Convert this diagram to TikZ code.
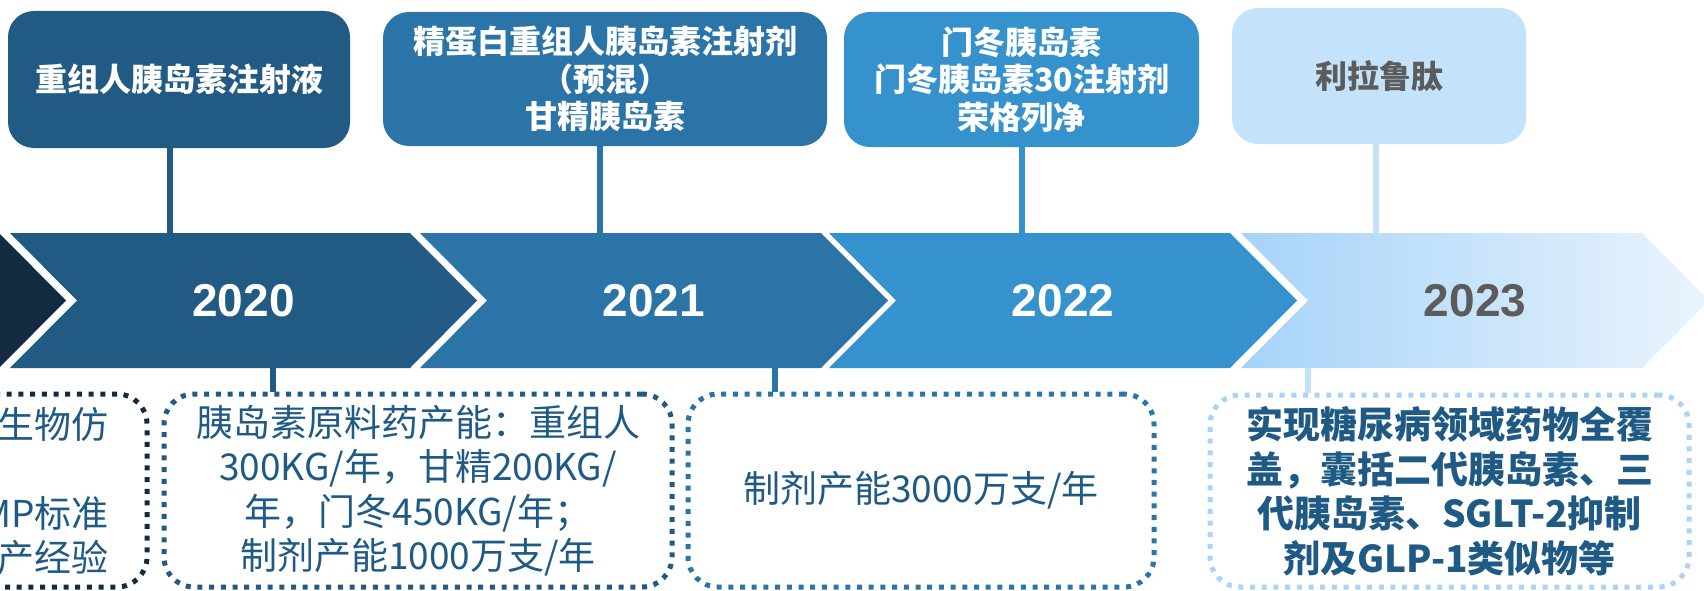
\documentclass[tikz,border=0pt]{standalone}
\usepackage{fontspec}
\setmainfont{Noto Sans CJK SC}
\newfontfamily\yearfont{Liberation Sans}
\usetikzlibrary{fit,positioning,calc}

\definecolor{navy}{HTML}{132B40}
\definecolor{blueA}{HTML}{215A82}
\definecolor{blueB}{HTML}{2A74A8}
\definecolor{blueC}{HTML}{3592CD}
\definecolor{blueD}{HTML}{C5E2FB}
\definecolor{dotD}{HTML}{A9D3F7}
\definecolor{shadeL}{HTML}{A6D3F9}
\definecolor{shadeR}{HTML}{EAF4FD}
\definecolor{greytext}{HTML}{5C5C5C}
\definecolor{inktext}{HTML}{1F5A85}

\tikzset{
  topbox/.style={rounded corners=26pt, inner sep=0pt},
  topfont/.style={font=\fontsize{32}{37.5}\selectfont\bfseries, align=center},
  dotbox/.style={rounded corners=30pt, inner sep=0pt, line width=5pt, dash pattern=on 5pt off 6.7pt},
  lowfont/.style={font=\fontsize{37}{44.5}\selectfont, align=center},
  yearlabel/.style={font=\fontsize{46}{46}\yearfont\bfseries},
  link/.style={line width=5.5pt},
}

\begin{document}
\begin{tikzpicture}[x=1pt, y=-1pt]
    \useasboundingbox (0,0) rectangle (1704,591);
    \clip (0,0) rectangle (1704,591);

    \coordinate (up20) at (170,233);
    \coordinate (up21) at (600,233);
    \coordinate (up22) at (1022,233);
    \coordinate (up23) at (1376,233);
    \coordinate (dn20) at (273,368);
    \coordinate (dn21) at (775,368);
    \coordinate (dn23) at (1308,368);

    \node[fit={(8,11) (350,148)}, topbox, fill=blueA] (drug20) {};
    \node[topfont, text=white] at (drug20.center) {重组人胰岛素注射液};
    \draw[link, blueA] (drug20.south -| up20) -- (up20);

    \node[fit={(383,12) (827,146)}, topbox, fill=blueB] (drug21) {};
    \node[topfont, text=white] at (drug21.center) {精蛋白重组人胰岛素注射剂\\（预混）\\甘精胰岛素};
    \draw[link, blueB] (drug21.south -| up21) -- (up21);

    \node[fit={(844,12) (1199,147)}, topbox, fill=blueC] (drug22) {};
    \node[topfont, text=white] at (drug22.center) {门冬胰岛素\\门冬胰岛素30注射剂\\荣格列净};
    \draw[link, blueC] (drug22.south -| up22) -- (up22);

    \node[fit={(1232,8) (1526,144)}, topbox, fill=blueD] (drug23) {};
    \node[topfont, text=greytext] at (drug23.center) {利拉鲁肽};
    \draw[link, blueD] (drug23.south -| up23) -- (up23);

    \fill[navy] (-401,233) -- ++(400,0) -- ++(67,67.5) -- ++(-67,67.5) -- ++(-400,0) -- ++(67,-67.5) -- cycle;
    \fill[blueA] (10,233) -- ++(400,0) -- ++(67,67.5) -- ++(-67,67.5) -- ++(-400,0) -- ++(67,-67.5) -- cycle;
    \fill[blueB] (420,233) -- ++(401,0) -- ++(67,67.5) -- ++(-67,67.5) -- ++(-401,0) -- ++(67,-67.5) -- cycle;
    \fill[blueC] (829,233) -- ++(401,0) -- ++(67,67.5) -- ++(-67,67.5) -- ++(-401,0) -- ++(67,-67.5) -- cycle;
    \shade[left color=shadeL, right color=shadeR] (1241,233) -- ++(401,0) -- ++(67,67.5) -- ++(-67,67.5) -- ++(-401,0) -- ++(67,-67.5) -- cycle;

    \node[yearlabel, text=white] (y2020) at (243.5,300.5) {2020};
    \node[yearlabel, text=white] (y2021) at (654,300.5) {2021};
    \node[yearlabel, text=white] (y2022) at (1063,300.5) {2022};
    \node[yearlabel, text=greytext] (y2023) at (1475,300.5) {2023};

    \node[fit={(-300,394) (147,587)}, dotbox, draw=navy] (cap19) {};
    \node[lowfont, align=right, text=inktext, anchor=east] at (112,491) {生物仿\\ \\MP标准\\产经验};

    \node[fit={(164,394) (672,587)}, dotbox, draw=blueA] (cap20) {};
    \node[lowfont, text=inktext] at (cap20.center) {胰岛素原料药产能：重组人\\300KG/年，甘精200KG/\\年，门冬450KG/年；\\制剂产能1000万支/年};
    \draw[link, blueA] (dn20) -- (dn20 |- cap20.north);

    \node[fit={(688,394) (1154,587)}, dotbox, draw=blueB] (cap21) {};
    \node[lowfont, text=inktext] at (cap21.center) {制剂产能3000万支/年};
    \draw[link, blueB] (dn21) -- (dn21 |- cap21.north);

    \node[fit={(1210,395) (1689,587)}, dotbox, draw=dotD] (cap23) {};
    \node[lowfont, text=inktext, font=\fontsize{37}{44.5}\selectfont\bfseries] at (cap23.center) {实现糖尿病领域药物全覆\\盖，囊括二代胰岛素、三\\代胰岛素、SGLT-2抑制\\剂及GLP-1类似物等};
    \draw[link, blueD] (dn23) -- (dn23 |- cap23.north);
\end{tikzpicture}
\end{document}
